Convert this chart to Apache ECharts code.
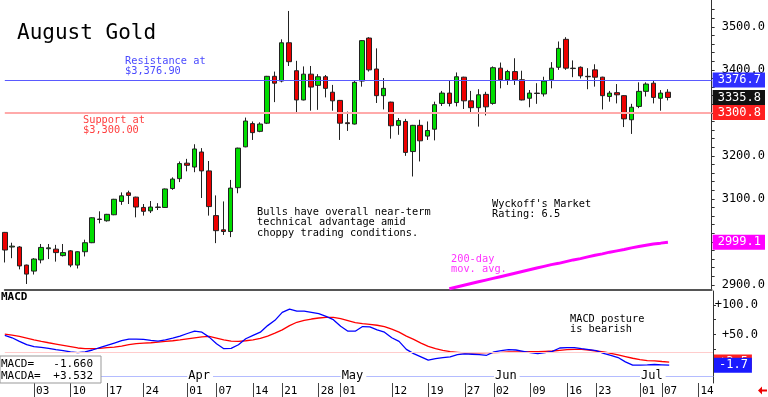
<!DOCTYPE html>
<html>
<head>
<meta charset="utf-8">
<script src="https://cdn.jsdelivr.net/npm/echarts@6/dist/echarts.min.js"></script>
<style>
  html, body { margin: 0; padding: 0; background: #fff; }
  #chart { width: 768px; height: 397px; }
</style>
</head>
<body>
<div id="chart"></div>
<script>
// trading days (plus a few empty days at the right)
var dates = [
  '02-25','02-26','02-27','02-28',
  '03-03','03-04','03-05','03-06','03-07',
  '03-10','03-11','03-12','03-13','03-14',
  '03-17','03-18','03-19','03-20','03-21',
  '03-24','03-25','03-26','03-27','03-28',
  '03-31','04-01','04-02','04-03','04-04',
  '04-07','04-08','04-09','04-10','04-11',
  '04-14','04-15','04-16','04-17',
  '04-21','04-22','04-23','04-24','04-25',
  '04-28','04-29','04-30','05-01','05-02',
  '05-05','05-06','05-07','05-08','05-09',
  '05-12','05-13','05-14','05-15','05-16',
  '05-19','05-20','05-21','05-22','05-23',
  '05-27','05-28','05-29','05-30',
  '06-02','06-03','06-04','06-05','06-06',
  '06-09','06-10','06-11','06-12','06-13',
  '06-16','06-17','06-18','06-20',
  '06-23','06-24','06-25','06-26','06-27',
  '06-30','07-01','07-02','07-03',
  '07-07','07-08','07-09','07-10','07-11',
  '07-14','07-15','07-16'
];
var dayTicks = ['03-03','03-10','03-17','03-24','04-01','04-07','04-14','04-21','04-28','05-01',
  '05-12','05-19','05-27','06-02','06-09','06-16','06-23','07-01','07-07','07-14'];
var monthTicks = ['04-01','05-01','06-02','07-01'];
var monthNames = ['Apr','May','Jun','Jul'];

var opens = [3022,2988,2988,2946,2932,2958,2984,2983,2968,2979,2946,2977,2998,3053,3049,3063,3094,3114,3104,3080,
  3072,3081,3080,3124,3147,3183,3174,3209,3165,3061,3028,3024,3126,3221,3275,3257,3276,3385,3374,3463,
  3398,3330,3390,3364,3384,3348,3329,3277,3274,3374,3474,3402,3340,3325,3271,3280,3210,3271,3246,3262,
  3322,3346,3324,3383,3328,3312,3343,3322,3404,3377,3396,3377,3334,3346,3344,3377,3406,3471,3403,3406,
  3385,3400,3383,3338,3347,3340,3284,3315,3350,3369,3334,3348];
var closes = [2981,2990,2944,2925,2960,2987,2986,2975,2975,2946,2977,2998,3056,3052,3064,3099,3107,3108,3081,3071,
  3081,3080,3123,3146,3182,3178,3216,3165,3082,3026,3024,3125,3218,3281,3254,3274,3385,3369,3463,3419,
  3330,3390,3360,3384,3357,3328,3276,3275,3371,3468,3400,3340,3357,3270,3282,3208,3271,3235,3259,3319,
  3346,3322,3384,3328,3312,3342,3314,3405,3377,3396,3377,3330,3346,3345,3374,3404,3450,3404,3404,3386,
  3384,3383,3340,3346,3342,3286,3313,3350,3367,3336,3346,3335.8];
var lows = [2952,2962,2936,2902,2924,2950,2960,2954,2966,2941,2938,2966,2997,3043,3047,3062,3086,3088,3057,3061,
  3067,3074,3079,3121,3139,3164,3162,3102,3061,2997,3016,3011,3113,3220,3237,3255,3274,3325,3371,3409,
  3299,3329,3305,3307,3336,3305,3237,3258,3273,3361,3396,3323,3308,3240,3249,3200,3152,3187,3237,3236,
  3316,3315,3315,3309,3302,3268,3294,3319,3357,3365,3365,3329,3313,3321,3338,3357,3400,3400,3383,3380,
  3355,3361,3308,3326,3322,3267,3251,3311,3338,3322,3305,3329];
var highs = [3023,2998,2990,2947,2962,2995,2995,2993,2995,2981,2978,3005,3057,3071,3065,3100,3115,3119,3105,3088,
  3095,3090,3124,3150,3187,3193,3227,3218,3188,3108,3094,3144,3219,3289,3280,3278,3386,3396,3471,3537,
  3421,3408,3409,3390,3388,3365,3330,3303,3374,3469,3476,3450,3381,3326,3288,3286,3272,3284,3280,3326,
  3351,3375,3394,3384,3351,3355,3349,3408,3417,3400,3427,3398,3353,3369,3384,3418,3466,3476,3422,3408,
  3404,3413,3384,3351,3367,3341,3321,3371,3371,3375,3353,3355];

// 200-day moving average, visible from 05-21 onward
var maStart = 61;
var ma200 = [2891,2895,2899,2903,2907,2911,2915,2919,2923,2927,2931,2935,2939,2943,2947,2950,
  2954,2958,2961,2965,2969,2972,2976,2979,2982,2986,2989,2992,2995,2997,2999.1];

var macd = [48.4,44.5,38.4,32.8,29.5,28.4,26.7,24.5,22.8,20.6,
  19.5,20.6,23.9,27.8,31.7,35.6,39.5,42.3,42.3,41.7,
  40.0,38.9,41.1,43.9,47.3,51.7,55.6,53.9,45.6,34.5,
  26.1,26.7,32.8,42.8,48.4,53.9,65.0,73.9,87.3,92.8,
  89.5,89.5,87.3,85.0,80.6,75.0,63.9,55.6,55.6,63.4,
  62.8,57.8,53.9,44.5,38.4,25.0,17.8,12.3,6.7,9.5,
  11.2,12.3,16.1,17.3,16.7,16.1,15.0,20.6,22.8,24.5,
  23.9,21.7,19.5,17.8,19.5,21.7,27.3,27.8,27.8,26.1,
  24.5,22.8,18.4,15.0,11.2,3.9,-1.6,-1.6,-1.1,-0.5,
  -1.1,-1.66];
var macda = [50.6,48.9,46.7,43.9,41.1,38.4,36.1,33.9,31.7,29.5,
  27.3,26.1,26.1,26.7,27.8,28.9,30.6,32.8,34.5,35.6,
  36.1,37.3,38.4,39.5,41.1,42.8,44.5,46.1,46.7,43.9,
  41.1,38.9,38.4,39.5,41.1,43.4,47.3,52.3,57.8,65.0,
  70.6,73.9,76.1,77.8,78.9,78.9,76.7,73.4,70.0,68.3,
  67.2,65.6,63.4,58.9,53.9,47.3,41.7,35.6,30.0,26.1,
  23.4,21.1,20.0,18.9,18.9,18.9,19.5,19.5,20.0,20.6,
  20.6,20.6,21.1,21.1,21.7,22.2,23.4,24.5,25.0,25.0,
  23.9,22.2,20.6,18.4,15.6,12.8,10.0,7.8,6.1,5.6,
  4.5,3.532];

var priceLabels = [2900,3000,3100,3200,3300,3400,3500];
var priceTicks = [2900,2920,2940,2960,2980,3000,3020,3040,3060,3080,3100,3120,3140,3160,3180,3200,
  3220,3240,3260,3280,3300,3320,3340,3360,3380,3400,3420,3440,3460,3480,3500,3520,3540];
var macdLabels = [50,100];
var macdTicks = [0,25,50,75,100];

var resistance = 3376.7, support = 3300.8, lastClose = 3335.8;

var MONO = "'DejaVu Sans Mono', monospace";
var NOLINE = {color: 'rgba(0,0,0,0)', width: 0};

var candles = [];
for (var i = 0; i < opens.length; i++) {
  candles.push([opens[i], closes[i], lows[i], highs[i]]);
}
var maData = [];
for (var i = 0; i < maStart; i++) maData.push(null);
maData = maData.concat(ma200);

function boxLabel(text, bg) {
  return {
    show: true, position: 'end', distance: 1, formatter: text,
    backgroundColor: bg, color: '#fff', padding: [2, 4, 1, 5],
    fontFamily: MONO, fontSize: 12
  };
}
function isDayTick(idx, v) { return dayTicks.indexOf(v) >= 0; }
function isMonthTick(idx, v) { return monthTicks.indexOf(v) >= 0; }

var myChart = echarts.init(document.getElementById('chart'));
var option = {
  animation: false,
  backgroundColor: '#fff',
  grid: [
    {left: 4.8, right: 55, top: 0, height: 290},
    {left: 4.8, right: 55, top: 291, height: 92},
    {left: 4.8, right: 55, top: 376, height: 7}
  ],
  xAxis: [
    {gridIndex: 0, type: 'category', data: dates, boundaryGap: false,
      axisLine: {show: true, lineStyle: {color: '#555', width: 2}},
      axisTick: {show: false}, axisLabel: {show: false}, splitLine: {show: false}},
    {gridIndex: 1, type: 'category', data: dates, boundaryGap: false, show: false},
    {gridIndex: 2, type: 'category', data: dates, boundaryGap: false, position: 'bottom',
      axisLine: {show: false},
      axisTick: {show: true, length: 14, interval: isDayTick, lineStyle: {color: '#444'}},
      axisLabel: {interval: isDayTick,
        formatter: function (v) { return v.slice(3); },
        align: 'left', margin: 3, padding: [0, 0, 0, 2],
        fontFamily: MONO, fontSize: 11, color: '#000'},
      splitLine: {show: false}},
    {gridIndex: 2, type: 'category', data: dates, boundaryGap: false, position: 'top',
      axisLine: {show: true, lineStyle: {color: '#b4bcff', width: 1}},
      axisTick: {show: false},
      axisLabel: {interval: isMonthTick,
        formatter: function (v) { return monthNames[monthTicks.indexOf(v)]; },
        align: 'left', verticalAlign: 'middle', margin: 0, padding: [0, 3, 0, 1],
        backgroundColor: '#fff', fontFamily: MONO, fontSize: 12, color: '#000'},
      splitLine: {show: false}}
  ],
  yAxis: [
    {gridIndex: 0, type: 'value', position: 'right', min: 2888, max: 3562.5,
      splitLine: {show: false},
      axisLine: {show: true, lineStyle: {color: '#333'}},
      axisTick: {show: true, length: 3, customValues: priceTicks, lineStyle: {color: '#333'}},
      axisLabel: {customValues: priceLabels, margin: 10, fontFamily: MONO, fontSize: 12, color: '#000',
        formatter: function (v) { return v.toFixed(1); }}},
    {gridIndex: 1, type: 'value', position: 'right', min: -31.7, max: 123.3,
      splitLine: {show: false},
      axisLine: {show: true, lineStyle: {color: '#333'}},
      axisTick: {show: true, length: 3, customValues: macdTicks, lineStyle: {color: '#333'}},
      axisLabel: {customValues: macdLabels, margin: 45, align: 'right', fontFamily: MONO, fontSize: 12, color: '#000',
        formatter: function (v) { return '+' + v.toFixed(1); }}},
    {gridIndex: 2, type: 'value', show: false}
  ],
  series: [
    {type: 'candlestick', xAxisIndex: 0, yAxisIndex: 0, data: candles, barWidth: 5, clip: false,
      itemStyle: {color: '#00dd00', color0: '#ee0000', borderColor: '#222', borderColor0: '#222', borderWidth: 1},
      markLine: {silent: true, symbol: 'none', animation: false,
        data: [
          {yAxis: support, lineStyle: {color: '#ffaaaa', width: 2, type: 'solid'},
            label: boxLabel('3300.8', '#ff2020')},
          {yAxis: resistance, lineStyle: {color: '#5a5aff', width: 1, type: 'solid'},
            label: boxLabel('3376.7', '#2f2fff')},
          {yAxis: lastClose, lineStyle: NOLINE,
            label: boxLabel('3335.8', '#111')}
        ]}},
    {type: 'line', xAxisIndex: 0, yAxisIndex: 0, data: maData, symbol: 'none',
      lineStyle: {color: '#ff00ff', width: 3},
      markLine: {silent: true, symbol: 'none', animation: false,
        data: [{yAxis: 2999.1, lineStyle: NOLINE, label: boxLabel('2999.1', '#ff00ff')}]}},
    {type: 'line', xAxisIndex: 1, yAxisIndex: 1, data: macda, symbol: 'none',
      lineStyle: {color: '#ff0000', width: 1.3},
      markLine: {silent: true, symbol: 'none', animation: false,
        data: [
          {yAxis: 19.5, lineStyle: {color: '#ffcccc', width: 1, type: 'solid'}, label: {show: false}},
          {yAxis: 3.532, lineStyle: NOLINE, label: boxLabel('+3.5', '#ff2020')}
        ]}},
    {type: 'line', xAxisIndex: 1, yAxisIndex: 1, data: macd, symbol: 'none',
      lineStyle: {color: '#0000ff', width: 1.3},
      markLine: {silent: true, symbol: 'none', animation: false,
        data: [{yAxis: -1.66, lineStyle: NOLINE, label: boxLabel('-1.7', '#1a1aff')}]}}
  ],
  graphic: [
    {type: 'text', x: 17, y: 23, style: {text: 'August Gold', fontFamily: MONO, fontSize: 21, fill: '#000', verticalAlign: 'top'}},
    {type: 'text', x: 125, y: 55.5, style: {text: 'Resistance at\n$3,376.90', fontFamily: MONO, fontSize: 10.3, lineHeight: 10.7, fill: '#4a4aff', verticalAlign: 'top'}},
    {type: 'text', x: 83, y: 114.5, style: {text: 'Support at\n$3,300.00', fontFamily: MONO, fontSize: 10.3, lineHeight: 10.7, fill: '#ff4040', verticalAlign: 'top'}},
    {type: 'text', x: 257, y: 206.5, style: {text: 'Bulls have overall near-term\ntechnical advantage amid\nchoppy trading conditions.', fontFamily: MONO, fontSize: 10.3, lineHeight: 10.7, fill: '#000', verticalAlign: 'top'}},
    {type: 'text', x: 492, y: 198.5, style: {text: "Wyckoff's Market\nRating: 6.5", fontFamily: MONO, fontSize: 10.3, lineHeight: 10.7, fill: '#000', verticalAlign: 'top'}},
    {type: 'text', x: 451, y: 253.5, style: {text: '200-day\nmov. avg.', fontFamily: MONO, fontSize: 10.3, lineHeight: 10.7, fill: '#ff33ff', verticalAlign: 'top'}},
    {type: 'text', x: 570, y: 313.5, style: {text: 'MACD posture\nis bearish', fontFamily: MONO, fontSize: 10.3, lineHeight: 10.7, fill: '#000', verticalAlign: 'top'}},
    {type: 'text', x: 1, y: 292, style: {text: 'MACD', fontFamily: MONO, fontSize: 11, fontWeight: 'bold', fill: '#000', verticalAlign: 'top'}},
    {type: 'rect', shape: {x: 0, y: 356, width: 101, height: 27}, style: {fill: '#fff', stroke: '#999', lineWidth: 1}, z: 100},
    {type: 'text', x: 1, y: 358, z: 101, style: {text: 'MACD=\nMACDA=', fontFamily: MONO, fontSize: 11, lineHeight: 12, fill: '#000', verticalAlign: 'top'}},
    {type: 'text', x: 93, y: 358, z: 101, style: {text: '-1.660\n+3.532', fontFamily: MONO, fontSize: 11, lineHeight: 12, fill: '#000', align: 'right', verticalAlign: 'top'}},
    {type: 'polygon', z: 101, shape: {points: [[758, 390.5], [762, 386.5], [762, 389.5], [767, 389.5], [767, 391.5], [762, 391.5], [762, 394.5]]}, style: {fill: '#ee0000'}}
  ]
};
myChart.setOption(option);
</script>
</body>
</html>
